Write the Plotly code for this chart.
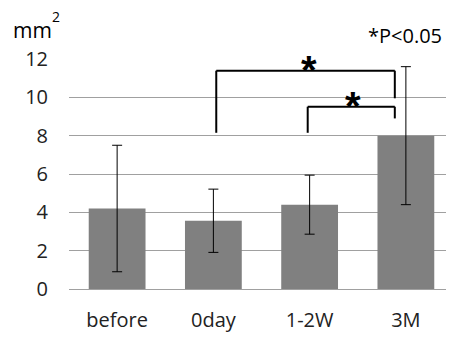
import plotly.graph_objects as go

categories = ["before", "0day", "1-2W", "3M"]
means = [4.2, 3.56, 4.4, 8.0]
errors = [3.3, 1.65, 1.54, 3.6]
y_ticks = [0, 2, 4, 6, 8, 10, 12]

# significance brackets: (left category index, right index, top y, left-leg bottom, right-leg bottom)
brackets = [
    (1.03, 2.885, 11.39, 8.15, 9.95),
    (1.98, 2.885, 9.51, 8.15, 8.9),
]
stars = [(1.99, 11.45), (2.45, 9.55)]

FONT = "Open Sans"

fig = go.Figure()
fig.add_trace(go.Bar(
    x=categories, y=means,
    marker=dict(color="#808080", line=dict(width=0)),
    width=0.59,
    error_y=dict(type="data", array=errors, color="black", thickness=1, width=5),
))

shapes = []
for x0, x1, top, b0, b1 in brackets:
    for (xa, ya, xb, yb) in [(x0, b0, x0, top), (x0, top, x1, top), (x1, top, x1, b1)]:
        shapes.append(dict(type="line", xref="x", yref="y", x0=xa, y0=ya, x1=xb, y1=yb,
                           line=dict(color="black", width=2), layer="above"))

annotations = [dict(x=sx, y=sy, xref="x", yref="y", text="<b>*</b>", showarrow=False,
                    font=dict(size=40, color="black", family="Liberation Sans"), yanchor="middle")
               for sx, sy in stars]
annotations.append(dict(xref="paper", yref="paper", x=0, y=1, xshift=-37, yshift=29, text="mm",
                        showarrow=False, xanchor="center", yanchor="middle",
                        font=dict(size=21, family=FONT, color="black")))
annotations.append(dict(xref="paper", yref="paper", x=0, y=1, xshift=-13, yshift=43, text="2",
                        showarrow=False, xanchor="center", yanchor="middle",
                        font=dict(size=14, family=FONT, color="black")))
annotations.append(dict(xref="paper", yref="paper", x=0, y=1, xshift=336, yshift=24, text="*P<0.05",
                        showarrow=False, xanchor="center", yanchor="middle",
                        font=dict(size=20, family=FONT, color="black")))

# page body has an 8px margin; size the figure so the drawing lands where the reference has it
fig.update_layout(
    width=446, height=329,
    margin=dict(l=61, r=0, t=51, b=48),
    paper_bgcolor="white", plot_bgcolor="white",
    showlegend=False,
    shapes=shapes,
    annotations=annotations,
    font=dict(family=FONT, size=20, color="#222222"),
)
fig.update_yaxes(range=[0, 12], tickvals=y_ticks, showgrid=True, gridcolor="#a0a0a0", gridwidth=1.3,
                 zeroline=False, showline=False, ticks="", ticklabelstandoff=20,
                 tickfont=dict(size=20, family=FONT, color="#222222"))
fig.update_xaxes(showline=True, linecolor="#a0a0a0", linewidth=1.3, ticks="",
                 ticklabelstandoff=13, tickfont=dict(size=20, family=FONT, color="#222222"),
                 range=[-0.5, 3.5])

fig.write_html("out.html")
